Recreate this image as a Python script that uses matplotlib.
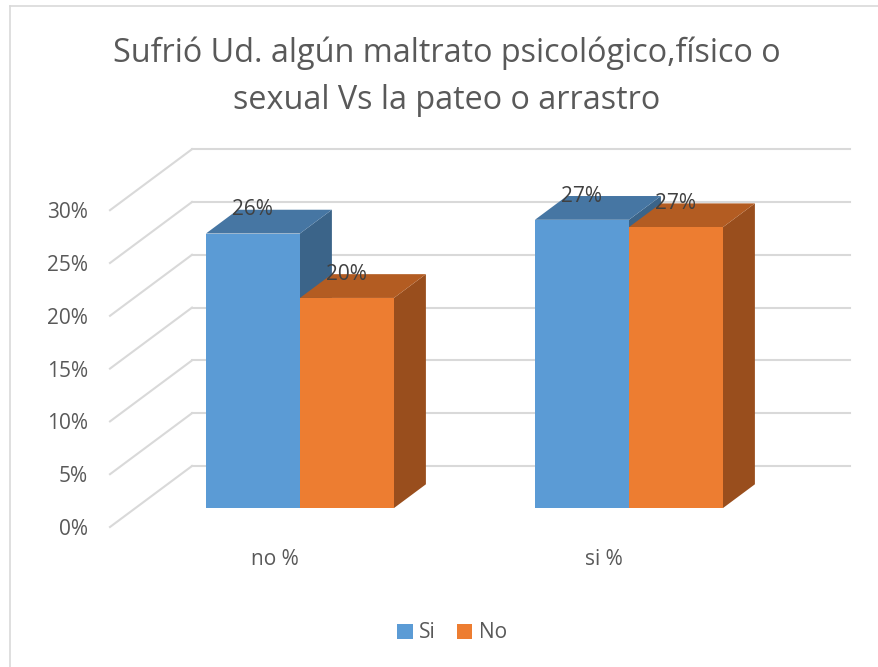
import matplotlib
matplotlib.use("Agg")
import matplotlib.pyplot as plt
from matplotlib.patches import Polygon, Patch
from matplotlib.lines import Line2D

plt.rcParams['font.family'] = ['Open Sans', 'DejaVu Sans']

# ---- data ----
categories = ["no %", "si %"]
series_names = ["Si", "No"]
si_values = [0.26, 0.273]
no_values = [0.199, 0.266]
value_labels_si = ["26%", "27%"]
value_labels_no = ["20%", "27%"]
yticks = [0.0, 0.05, 0.10, 0.15, 0.20, 0.25, 0.30]
ytick_labels = ["0%", "5%", "10%", "15%", "20%", "25%", "30%"]
title = "Sufrió Ud. algún maltrato psicológico,físico o\nsexual Vs la pateo o arrastro"

# ---- style ----
front_cols = ["#5B9BD5", "#ED7D31"]
top_cols = ["#4676A3", "#B35C22"]
side_cols = ["#3B6489", "#994E1D"]
grid_col = "#D9D9D9"
text_col = "#595959"
label_col = "#404040"

W, H = 879, 667
fig = plt.figure(figsize=(W / 100, H / 100), dpi=100)
fig.patch.set_facecolor("white")

# axes = front plane of floor (pixels: x 110..768, y 527(0)..210(0.30))
ax = fig.add_axes([110 / W, (H - 527) / H, 658 / W, (527 - 210.2) / H])
ax.set_xlim(-0.5, 1.5)
ax.set_ylim(0, 0.30)
for s in ax.spines.values():
    s.set_visible(False)
ax.patch.set_alpha(0)

# oblique depth vector in data units
DX = 82 / 329.0
DY = 61 / 52.8 * 0.05
d1, d2 = 0.31, 0.70
bw = 94 / 329.0

# gridlines: back wall + left side wall
for v in yticks:
    ax.add_line(Line2D([-0.5 + DX, 1.5 + DX], [v + DY, v + DY], color=grid_col,
                       lw=1.5, clip_on=False, zorder=1))
    ax.add_line(Line2D([-0.5, -0.5 + DX], [v, v + DY], color=grid_col,
                       lw=1.5, clip_on=False, zorder=1))

def draw_bar(x0, val, k, z):
    fx = x0 + d1 * DX
    fy = d1 * DY
    bx = x0 + d2 * DX
    by = d2 * DY
    # side
    ax.add_patch(Polygon([(fx + bw, fy), (bx + bw, by), (bx + bw, by + val), (fx + bw, fy + val)],
                         closed=True, facecolor=side_cols[k], edgecolor="none", clip_on=False, zorder=z))
    # top
    ax.add_patch(Polygon([(fx, fy + val), (fx + bw, fy + val), (bx + bw, by + val), (bx, by + val)],
                         closed=True, facecolor=top_cols[k], edgecolor="none", clip_on=False, zorder=z))
    # front
    ax.bar(fx, val, width=bw, bottom=fy, align="edge", color=front_cols[k],
           edgecolor="none", clip_on=False, zorder=z + 0.5)

for i in range(len(categories)):
    draw_bar(i - bw, si_values[i], 0, 3 + i * 2)
    draw_bar(i, no_values[i], 1, 4 + i * 2)
    ax.text(i - bw / 2 + d1 * DX, si_values[i] + d2 * DY, value_labels_si[i],
            ha="center", va="center", fontsize=15, color=label_col, zorder=20, clip_on=False)
    ax.text(i + bw / 2 + d1 * DX, no_values[i] + d2 * DY, value_labels_no[i],
            ha="center", va="center", fontsize=15, color=label_col, zorder=20, clip_on=False)

ax.set_yticks(yticks)
ax.set_yticklabels(ytick_labels)
ax.set_xticks(range(len(categories)))
ax.set_xticklabels(categories)
ax.tick_params(axis="y", length=0, pad=16, labelsize=15, labelcolor=text_col)
ax.tick_params(axis="x", length=0, pad=16, labelsize=15, labelcolor=text_col)

fig.text(447 / W, 1 - 77 / H, title, ha="center", va="center", fontsize=23.3,
         color=text_col, linespacing=1.55)

handles = [Patch(facecolor=front_cols[0], label=series_names[0]),
           Patch(facecolor=front_cols[1], label=series_names[1])]
fig.legend(handles=handles, loc="center", bbox_to_anchor=(452 / W, 1 - 633 / H), ncol=2,
           frameon=False, fontsize=15, labelcolor=text_col, handlelength=0.75,
           handleheight=0.75, handletextpad=0.3, columnspacing=1.0)

# chart border (top and left visible)
fig.add_artist(Line2D([10 / W, 1.0], [1 - 6 / H, 1 - 6 / H], color="#D9D9D9", lw=1.2))
fig.add_artist(Line2D([10 / W, 10 / W], [0, 1 - 6 / H], color="#D9D9D9", lw=1.2))

fig.savefig("out.png", dpi=100, facecolor="white")
